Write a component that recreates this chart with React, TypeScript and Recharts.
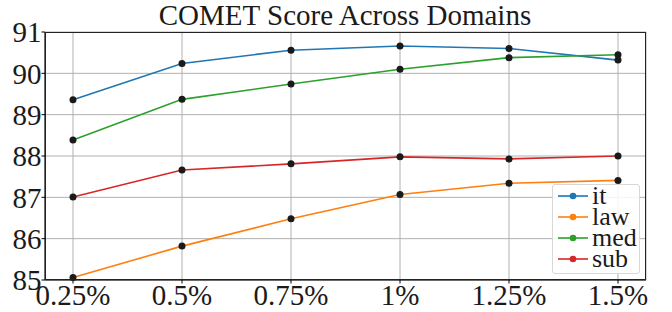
import { CartesianGrid, Line, LineChart, XAxis, YAxis } from 'recharts'

const ratios = ['0.25%', '0.5%', '0.75%', '1%', '1.25%', '1.5%']
const itScores = [89.36, 90.24, 90.56, 90.66, 90.6, 90.32]
const lawScores = [85.06, 85.82, 86.48, 87.07, 87.34, 87.41]
const medScores = [88.39, 89.37, 89.74, 90.1, 90.38, 90.45]
const subScores = [87.01, 87.66, 87.81, 87.98, 87.93, 88.0]
const yTicks = [85, 86, 87, 88, 89, 90, 91]

const series = [
  { key: 'it', values: itScores, color: '#1f77b4' },
  { key: 'law', values: lawScores, color: '#ff7f0e' },
  { key: 'med', values: medScores, color: '#2ca02c' },
  { key: 'sub', values: subScores, color: '#d62728' },
]

const data = ratios.map((ratio, i) => {
  const row: Record<string, string | number> = { ratio }
  series.forEach(s => { row[s.key] = s.values[i] })
  return row
})

const font = 'Liberation Serif, serif'

const LegendBox = () => (
  <div style={{
    position: 'absolute', left: 552, top: 184, width: 88, height: 90, boxSizing: 'border-box',
    border: '1px solid #d8d8d8', borderRadius: 3, background: 'rgba(255,255,255,0.85)',
    padding: '0 0 0 4px',
  }}>
    {series.map(s => (
      <div key={s.key} style={{ display: 'flex', alignItems: 'center', height: 21 }}>
        <svg width={32} height={10} style={{ flex: 'none' }}>
          <line x1={1} y1={5} x2={31} y2={5} stroke={s.color} strokeWidth={1.6} />
          <circle cx={16} cy={5} r={3.3} fill={s.color} />
        </svg>
        <span style={{ fontSize: 26, lineHeight: '20px', color: '#1a1a1a', marginLeft: 3 }}>{s.key}</span>
      </div>
    ))}
  </div>
)

const App = () => (
  <div style={{
    position: 'absolute', left: 0, top: 0, width: 672, height: 312, background: '#fff', fontFamily: font,
  }}>
    <div style={{
      position: 'absolute', left: 0, top: 0, width: 690, textAlign: 'center', lineHeight: '30px',
      fontSize: 29, color: '#1a1a1a',
    }}>
      COMET Score Across Domains
    </div>
    <LineChart
      width={672}
      height={312}
      data={data}
      margin={{ top: 32, right: 26, bottom: 0, left: 0 }}
      style={{ fontFamily: font }}
    >
      <CartesianGrid stroke="#b0b0b0" strokeWidth={1} />
      <XAxis
        dataKey="ratio"
        padding={{ left: 28, right: 28 }}
        height={32}
        stroke="#000"
        tickSize={3.5}
        tickMargin={1}
        interval={0}
        tick={{ fill: '#1a1a1a', fontSize: 29, fontFamily: font }}
      />
      <YAxis
        domain={[85, 91]}
        ticks={yTicks}
        interval={0}
        width={45}
        stroke="#000"
        tickSize={3.5}
        tickMargin={0}
        tick={{ fill: '#1a1a1a', fontSize: 29, fontFamily: font }}
      />
      {series.map(s => (
        <Line
          key={s.key}
          dataKey={s.key}
          type="linear"
          stroke={s.color}
          strokeWidth={1.6}
          dot={{ r: 3.5, fill: '#1a1a1a', stroke: '#1a1a1a', strokeWidth: 0 }}
          activeDot={false}
          isAnimationActive={false}
        />
      ))}
    </LineChart>
    <div style={{
      position: 'absolute', left: 45, top: 32, width: 601, height: 248, boxSizing: 'border-box',
      border: '1px solid #222', pointerEvents: 'none',
    }} />
    <LegendBox />
  </div>
)

export default App
